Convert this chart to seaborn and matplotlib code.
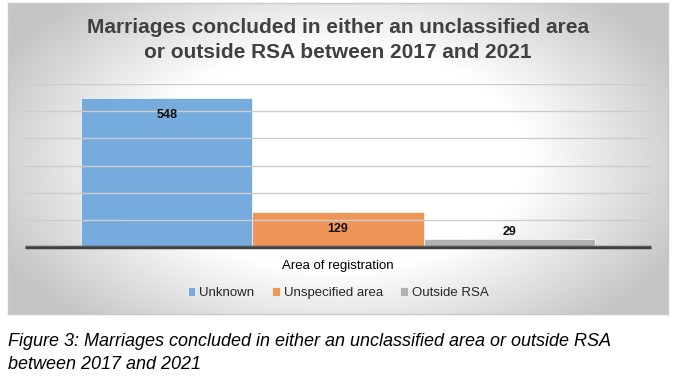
import numpy as np
import pandas as pd
import seaborn as sns
import matplotlib.pyplot as plt
from matplotlib.colors import LinearSegmentedColormap

# data
area = ["Area of registration"] * 3
groups = ["Unknown", "Unspecified area", "Outside RSA"]
counts = [548, 129, 29]
colors = ["#6fa8dc", "#f08f4f", "#afafaf"]

df = pd.DataFrame({"area": area, "group": groups, "count": counts})

sns.set_style("white")
plt.rcParams["font.family"] = ["Liberation Sans", "DejaVu Sans"]

W, H = 679, 378
fig = plt.figure(figsize=(W / 100, H / 100), dpi=100)

## background panel with radial gradient
bg = fig.add_axes([8 / W, 1 - 314 / H, 660 / W, 311 / H])
yy, xx = np.mgrid[-1:1:200j, -1:1:400j]
r = np.sqrt(xx**2 + (yy * 0.8) ** 2)
cmap = LinearSegmentedColormap.from_list("bg", ["#ffffff", "#ffffff", "#c4c4c4"])
bg.imshow(r, cmap=cmap, aspect="auto", extent=[0, 1, 0, 1], vmin=0.0, vmax=1.15)
bg.set_xticks([])
bg.set_yticks([])
for s in bg.spines.values():
    s.set_color("#c8c8c8")
    s.set_linewidth(1)

## bars
ax = fig.add_axes([25 / W, 1 - 247 / H, 626 / W, 163 / H])
ax.patch.set_alpha(0)
sns.barplot(
    data=df,
    x="area",
    y="count",
    hue="group",
    palette=colors,
    width=0.82,
    saturation=1,
    edgecolor="#f4f4f4",
    linewidth=0.6,
    alpha=0.95,
    ax=ax,
)
ax.set_ylim(0, 600)
ax.set_xlim(-0.5, 0.5)
ax.set_yticks(range(0, 601, 100))
ax.set_yticklabels([])
ax.yaxis.grid(True, color="#cccccc", linewidth=1)
ax.set_axisbelow(False)
for s in ["top", "left", "right"]:
    ax.spines[s].set_visible(False)
ax.spines["bottom"].set_color("#404040")
ax.spines["bottom"].set_linewidth(2.5)
ax.spines["bottom"].set_capstyle("butt")
ax.tick_params(axis="both", length=0)
ax.tick_params(axis="x", pad=9, labelsize=9.5, labelcolor="#000000")
ax.set_xlabel("")
ax.set_ylabel("")

for cont in ax.containers:
    for bar in cont:
        v = bar.get_height()
        off = -17 if v > 60 else 7
        ax.annotate(
            f"{v:.0f}",
            xy=(bar.get_x() + bar.get_width() / 2, v),
            xytext=(0, off),
            textcoords="offset pixels",
            ha="center",
            va="center",
            fontsize=9,
            fontweight="bold",
            color="#111111",
        )

handles, labels = ax.get_legend_handles_labels()
ax.legend(
    handles,
    labels,
    loc="center",
    bbox_to_anchor=(338 / W, 1 - 293 / H),
    bbox_transform=fig.transFigure,
    ncol=3,
    frameon=False,
    fontsize=9.5,
    handlelength=0.6,
    handleheight=0.6,
    handletextpad=0.3,
    columnspacing=1.3,
)

## title and caption
fig.text(
    338 / W,
    1 - 40 / H,
    "Marriages concluded in either an unclassified area\nor outside RSA between 2017 and 2021",
    ha="center",
    va="center",
    fontsize=15,
    fontweight="bold",
    color="#404040",
    linespacing=1.35,
)
fig.text(
    8 / W,
    1 - 353 / H,
    "Figure 3: Marriages concluded in either an unclassified area or outside RSA\nbetween 2017 and 2021",
    ha="left",
    va="center",
    fontsize=13,
    style="italic",
    color="#000000",
    linespacing=1.45,
)

fig.savefig("out.png", dpi=100, facecolor="white")
